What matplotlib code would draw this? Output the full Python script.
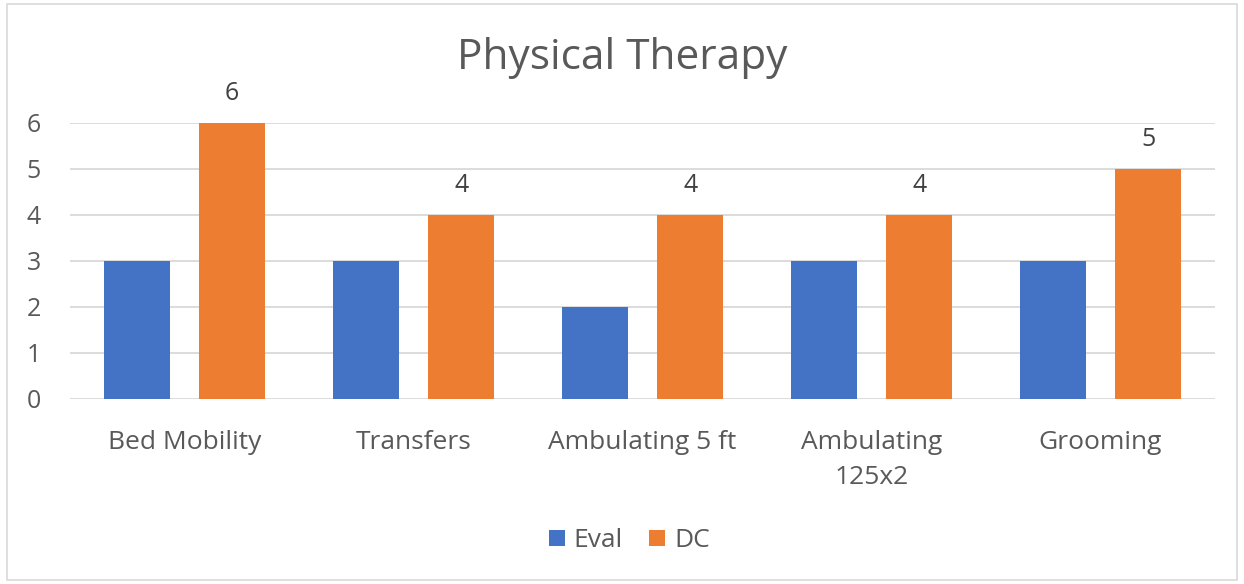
import numpy as np
import matplotlib.pyplot as plt
from matplotlib.patches import Rectangle

categories = ["Bed Mobility", "Transfers", "Ambulating 5 ft", "Ambulating\n125x2", "Grooming"]
eval_vals = [3, 3, 2, 3, 3]
dc_vals = [6, 4, 4, 4, 5]

blue = "#4472C4"
orange = "#ED7D31"
text_c = "#595959"
grid_c = "#D9D9D9"

plt.rcParams['font.family'] = ['Open Sans', 'DejaVu Sans']

fig = plt.figure(figsize=(12.44, 5.84), dpi=100)
fig.patches.append(Rectangle((0.006, 0.006), 0.988, 0.988, transform=fig.transFigure,
                             fill=False, edgecolor=grid_c, linewidth=1.2))

ax = fig.add_axes([0.0563, 0.3168, 0.9204, 0.4726])
x = np.arange(len(categories))
w = 0.29
ax.bar(x - 0.208, eval_vals, w, color=blue, label="Eval", zorder=3)
ax.bar(x + 0.208, dc_vals, w, color=orange, label="DC", zorder=3)

for xi, v in zip(x, dc_vals):
    ax.annotate(str(v), (xi + 0.208, v), xytext=(0, 21), textcoords="offset points",
                ha="center", va="center", fontsize=18, color="#404040", annotation_clip=False)

ax.set_xlim(-0.5, len(categories) - 0.5)
ax.set_ylim(0, 6)
ax.set_yticks(range(0, 7))
ax.yaxis.grid(True, color=grid_c, linewidth=1.3, zorder=0)
ax.set_axisbelow(True)
for s in ax.spines.values():
    s.set_visible(False)
ax.tick_params(length=0)
ax.tick_params(axis="y", labelsize=18, labelcolor=text_c, pad=21)
ax.tick_params(axis="x", labelsize=19, labelcolor=text_c, pad=22)
ax.set_xticks(x)
ax.set_xticklabels(categories, linespacing=1.55, va="top")

fig.text(0.5, 0.9, "Physical Therapy", ha="center", va="center", fontsize=30.5, color=text_c)

fig.legend(loc="center", bbox_to_anchor=(0.506, 0.074), ncol=2, frameon=False,
           fontsize=19, labelcolor=text_c, handlelength=0.6, handleheight=0.6,
           handletextpad=0.35, columnspacing=1.0)

fig.savefig("out.png", dpi=100)
